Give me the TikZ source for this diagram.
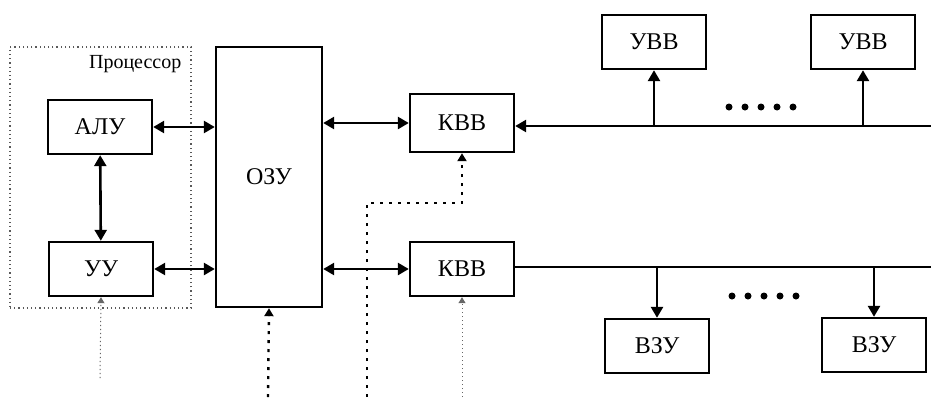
\documentclass[tikz,border=0pt]{standalone}
\usepackage{fontspec}
\setmainfont{Liberation Serif}
\usetikzlibrary{arrows.meta, positioning}

\begin{document}
\begin{tikzpicture}[x=1pt, y=-1pt,
    blok/.style={draw, line width=2.4pt, minimum width=104pt, minimum height=54pt, inner sep=0pt, font=\fontsize{24}{26}\selectfont},
    link/.style={line width=2.6pt, {Triangle[length=11pt,width=12pt]}-{Triangle[length=11pt,width=12pt]}},
    bus/.style={line width=2.6pt},
    tap/.style={line width=2.6pt, -{Triangle[length=11pt,width=12pt]}},
    ctlbold/.style={line width=2.4pt, dash pattern=on 3pt off 6pt, -{Triangle[length=8pt,width=9pt]}},
    ctlthin/.style={line width=1pt, gray!80!black, dash pattern=on 1.2pt off 2.8pt, -{Triangle[length=6pt,width=7pt]}},
    frame/.style={draw, gray!70!black, line width=1.1pt, dash pattern=on 1.2pt off 3pt, minimum width=181pt, minimum height=261pt, inner sep=0pt}]
    \useasboundingbox (0,0) rectangle (931,397);

    % Processor
    \node[frame] (proc) at (100.5,177.5) {};
    \node[below left=9pt and 10pt of proc.north east, inner sep=0pt, font=\fontsize{20}{22}\selectfont] (proclabel) {Процессор};
    \node[blok] (alu) at (100,127) {АЛУ};
    \node[blok] (uu) at (101,269) {УУ};
    \node[blok, minimum width=106pt, minimum height=260pt] (ozu) at (269,177) {ОЗУ};

    % Channels
    \node[blok, minimum height=58pt] (kvv1) at (462,123) {КВВ};
    \node[blok] (kvv2) at (462,269) {КВВ};

    % Devices
    \node[blok] (uvv1) at (654,42) {УВВ};
    \node[blok] (uvv2) at (863,42) {УВВ};
    \node[blok] (vzu1) at (657,346) {ВЗУ};
    \node[blok] (vzu2) at (874,345) {ВЗУ};

    % Links
    \draw[link] (alu.east) -- (alu.east -| ozu.west);
    \draw[link] (uu.east) -- (uu.east -| ozu.west);
    \draw[link] (alu) -- (uu);
    \draw[link] (ozu.east |- kvv1) -- (kvv1.west);
    \draw[link] (ozu.east |- kvv2) -- (kvv2.west);

    % Buses
    \coordinate (bus1) at (931,126);
    \coordinate (bus2) at (931,267);
    \draw[tap] (bus1) -- (kvv1.east |- bus1);
    \draw[bus] (kvv2.east |- bus2) -- (bus2);
    \draw[tap] (uvv1 |- bus1) -- (uvv1.south);
    \draw[tap] (uvv2 |- bus1) -- (uvv2.south);
    \draw[tap] (vzu1 |- bus2) -- (vzu1.north);
    \draw[tap] (vzu2 |- bus2) -- (vzu2.north);
    \foreach \i in {0,...,4} {
        \fill (729+\i*16,107) circle (3.5pt);
        \fill (732+\i*16,296) circle (3.5pt);
    }

    % Control lines
    \coordinate (uuin) at (100,378);
    \coordinate (ozuin) at (268,397);
    \coordinate (kvv1in) at (367,397);
    \coordinate (kvv1bend) at (367,203);
    \coordinate (kvv2in) at (462,397);
    \draw[ctlthin] (uuin) -- (uu.south);
    \draw[ctlbold] (ozuin) -- (ozu.south);
    \draw[ctlbold] (kvv1in) -- (kvv1bend) -- (kvv1bend -| kvv1) -- (kvv1.south);
    \draw[ctlthin] (kvv2in) -- (kvv2.south);
\end{tikzpicture}
\end{document}
